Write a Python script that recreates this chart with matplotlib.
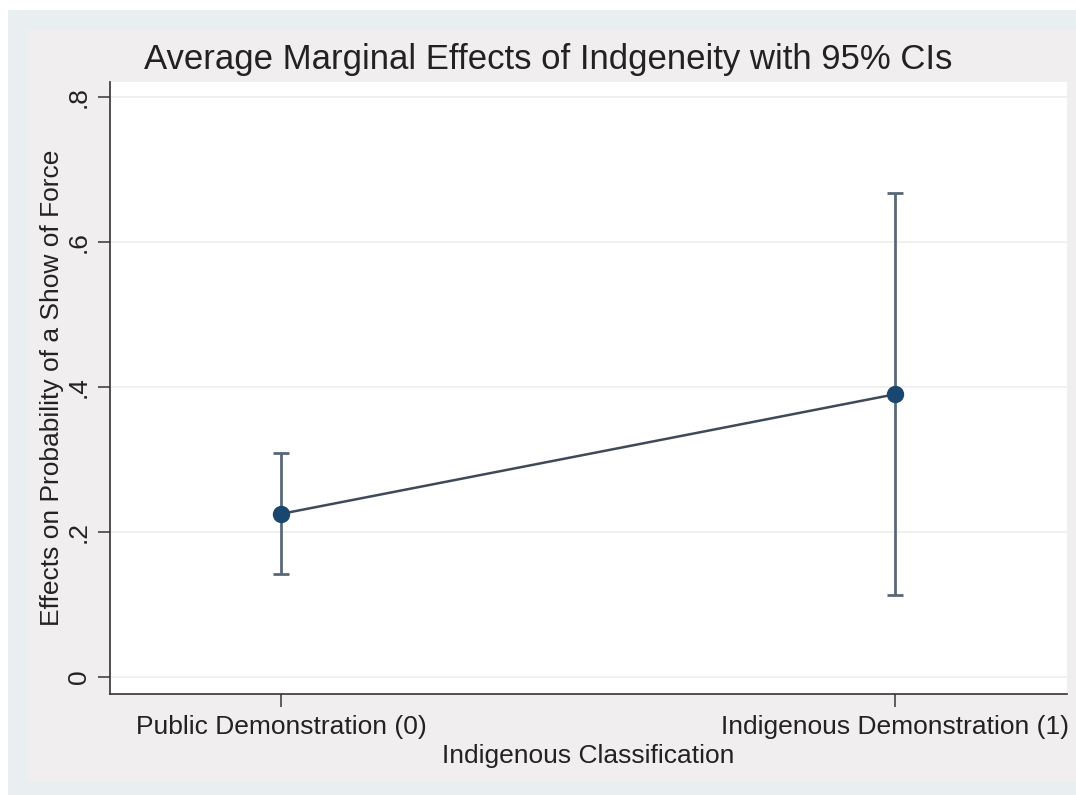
import matplotlib
matplotlib.use("Agg")
import matplotlib.pyplot as plt
from matplotlib.patches import Rectangle

plt.rcParams['font.family'] = ['Liberation Sans', 'DejaVu Sans']

# margins estimates for the two groups
groups = [0, 1]
group_labels = ["Public Demonstration (0)", "Indigenous Demonstration (1)"]
effects = [0.225, 0.390]
ci_low = [0.142, 0.113]
ci_high = [0.309, 0.668]
y_ticks = [0, 0.2, 0.4, 0.6, 0.8]
y_ticklabels = ["0", ".2", ".4", ".6", ".8"]

W, H = 1076, 795
fig = plt.figure(figsize=(W / 100, H / 100), dpi=100)
fig.patch.set_facecolor("white")

# stata-like graph region: bluish rim and grey inner panel
fig.patches.append(Rectangle((8 / W, 0), 1 - 8 / W, 1 - 10 / H, transform=fig.transFigure,
                             facecolor="#e9eff1", edgecolor="none", zorder=-2))
fig.patches.append(Rectangle((28 / W, 13 / H), 1 - 28 / W, 1 - 13 / H - 30 / H,
                             transform=fig.transFigure, facecolor="#f0eeef",
                             edgecolor="none", zorder=-1))

left, right, top, bottom = 110, 1067, 82, 694
ax = fig.add_axes([left / W, 1 - bottom / H, (right - left) / W, (bottom - top) / H])
ax.set_facecolor("white")

ax.set_xlim(-0.2785, 1.28)
ax.set_ylim(-0.0234, 0.8207)

for yt in y_ticks:
    ax.axhline(yt, color="#eeeeee", lw=1.2, zorder=0)

err_lo = [e - l for e, l in zip(effects, ci_low)]
err_hi = [h - e for e, h in zip(effects, ci_high)]
ax.errorbar(groups, effects, yerr=[err_lo, err_hi], fmt="none",
            ecolor="#596878", elinewidth=2, capsize=6, capthick=2, zorder=2)
ax.plot(groups, effects, color="#3e4a58", lw=1.8, zorder=3)
ax.plot(groups, effects, "o", color="#1a476f", markersize=11.5, zorder=4)

for s in ["top", "right"]:
    ax.spines[s].set_visible(False)
for s in ["left", "bottom"]:
    ax.spines[s].set_color("#333333")
    ax.spines[s].set_linewidth(1.2)

ax.set_yticks(y_ticks)
ax.set_yticklabels(y_ticklabels, rotation=90, va="center", fontsize=19, color="#222222")
ax.set_xticks(groups)
ax.set_xticklabels(group_labels, fontsize=19, color="#222222")
ax.tick_params(axis="both", length=9, width=1.2, color="#444444")
ax.tick_params(axis="x", pad=6)
ax.tick_params(axis="y", pad=5)

ax.set_ylabel("Effects on Probability of a Show of Force", fontsize=19,
              color="#222222", labelpad=2)
ax.set_xlabel("Indigenous Classification", fontsize=19, color="#222222", labelpad=4)

fig.text(548 / W, 1 - 60 / H, "Average Marginal Effects of Indgeneity with 95% CIs",
         ha="center", va="center", fontsize=25, color="#222222")

fig.savefig("out.png", dpi=100)
